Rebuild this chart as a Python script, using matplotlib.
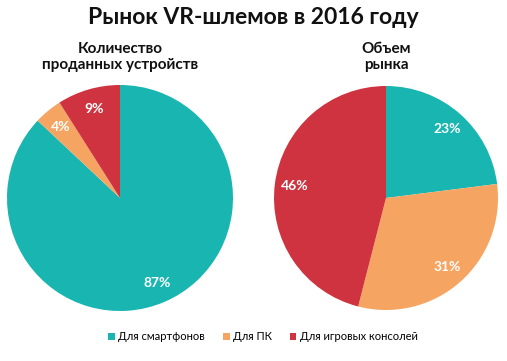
import matplotlib
matplotlib.use("Agg")
import matplotlib.pyplot as plt
from matplotlib.patches import Patch

plt.rcParams['font.family'] = ['Lato', 'Open Sans', 'DejaVu Sans']

categories = ["Для смартфонов", "Для ПК", "Для игровых консолей"]
units_share = [87, 4, 9]
market_share = [23, 31, 46]
titles = ["Количество\nпроданных устройств", "Объем\nрынка"]
colors = ["#19b5b0", "#f6a461", "#cf3340"]

W, H = 507, 361
fig = plt.figure(figsize=(W/100, H/100), dpi=100)

fig.text(0.5, 1 - 17/H, "Рынок VR-шлемов в 2016 году", ha="center", va="center",
         fontsize=16.5, fontweight="bold", color="#111111")

centers = [(120, 198, 113), (386, 198, 112)]
for (cx, cy, r), vals, title in zip(centers, [units_share, market_share], titles):
    ax = fig.add_axes([(cx - r)/W, (H - cy - r)/H, 2*r/W, 2*r/H])
    ax.pie(vals, colors=colors, startangle=90, counterclock=False,
           autopct=lambda p: f"{p:.0f}%", pctdistance=0.82,
           textprops=dict(color="white", fontweight="bold", fontsize=10),
           wedgeprops=dict(linewidth=0))
    ax.set_xlim(-1, 1)
    ax.set_ylim(-1, 1)
    ax.set_aspect("auto")
    ax.axis("off")
    fig.text(cx/W, 1 - 57/H, title, ha="center", va="center", fontsize=11,
             fontweight="bold", color="#111111", linespacing=1.15)

handles = [Patch(facecolor=c, edgecolor="none") for c in colors]
fig.legend(handles, categories, loc="center", bbox_to_anchor=(263/W, 1 - 337/H),
           ncol=3, frameon=False, fontsize=8, handlelength=0.6, handleheight=0.6,
           handletextpad=0.3, columnspacing=1.6)

fig.savefig("out.png", dpi=100, facecolor="white")
